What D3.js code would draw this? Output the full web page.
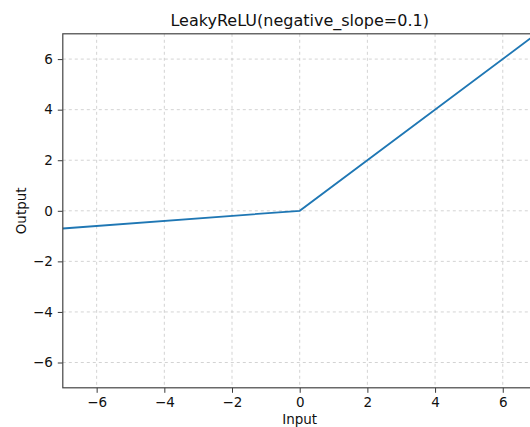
<!DOCTYPE html>
<html>
<head>
<meta charset="utf-8">
<script src="https://cdn.jsdelivr.net/npm/d3@7"></script>
<style>
  body { margin: 0; background: #fff; }
  svg { display: block; font-family: "DejaVu Sans", sans-serif; }
</style>
</head>
<body>
<svg id="chart" width="530" height="427"></svg>
<script>
var inputs = [-7, 0, 7];
var outputs = [-0.7, 0, 7];
var xTicks = [-6, -4, -2, 0, 2, 4, 6];
var yTicks = [-6, -4, -2, 0, 2, 4, 6];

// axes box is wider than the picture; the right side is cut off
var svg = d3.select("#chart"),
    mLeft = 62.8, mTop = 33.8, mRight = 536.6, mBottom = 387.8;

var x = d3.scaleLinear().domain([-7, 7]).range([mLeft, mRight]);
var y = d3.scaleLinear().domain([-7, 7]).range([mBottom, mTop]);

// grid
var grid = svg.append("g")
    .attr("stroke", "#b0b0b0")
    .attr("stroke-opacity", 0.7)
    .attr("stroke-width", 0.8)
    .attr("stroke-dasharray", "3,3");
grid.selectAll(".gx").data(xTicks).enter().append("line")
    .attr("x1", function(d) { return x(d); })
    .attr("x2", function(d) { return x(d); })
    .attr("y1", mTop).attr("y2", mBottom);
grid.selectAll(".gy").data(yTicks).enter().append("line")
    .attr("y1", function(d) { return y(d); })
    .attr("y2", function(d) { return y(d); })
    .attr("x1", mLeft).attr("x2", mRight);

// line
var line = d3.line()
    .x(function(d, i) { return x(inputs[i]); })
    .y(function(d) { return y(d); });
svg.append("path")
    .datum(outputs)
    .attr("fill", "none")
    .attr("stroke", "#1f77b4")
    .attr("stroke-width", 1.8)
    .attr("d", line);

// axes
var fmt = function(d) { return d < 0 ? "\u2212" + (-d) : d; };
var xAxis = svg.append("g")
    .attr("transform", "translate(0," + mBottom + ")")
    .call(d3.axisBottom(x).tickValues(xTicks).tickSize(5).tickPadding(5).tickFormat(fmt));
var yAxis = svg.append("g")
    .attr("transform", "translate(" + mLeft + ",0)")
    .call(d3.axisLeft(y).tickValues(yTicks).tickSize(5).tickPadding(5).tickFormat(fmt));
[xAxis, yAxis].forEach(function(a) {
    a.select(".domain").remove();
    a.selectAll("line").attr("stroke", "#222").attr("stroke-width", 0.9);
    a.selectAll("text").attr("font-family", "DejaVu Sans").attr("font-size", 13.5).attr("fill", "#111");
});

// spines
svg.append("rect")
    .attr("x", mLeft).attr("y", mTop)
    .attr("width", mRight - mLeft).attr("height", mBottom - mTop)
    .attr("fill", "none")
    .attr("stroke", "#444")
    .attr("stroke-width", 1.2);

// labels
svg.append("text")
    .attr("x", (mLeft + mRight) / 2).attr("y", 25.5)
    .attr("text-anchor", "middle")
    .attr("font-size", 16)
    .attr("fill", "#111")
    .text("LeakyReLU(negative_slope=0.1)");
svg.append("text")
    .attr("x", (mLeft + mRight) / 2).attr("y", 424)
    .attr("text-anchor", "middle")
    .attr("font-size", 13.5)
    .attr("fill", "#111")
    .text("Input");
svg.append("text")
    .attr("transform", "translate(25.5," + (mTop + mBottom) / 2 + ") rotate(-90)")
    .attr("text-anchor", "middle")
    .attr("font-size", 13.5)
    .attr("fill", "#111")
    .text("Output");
</script>
</body>
</html>
